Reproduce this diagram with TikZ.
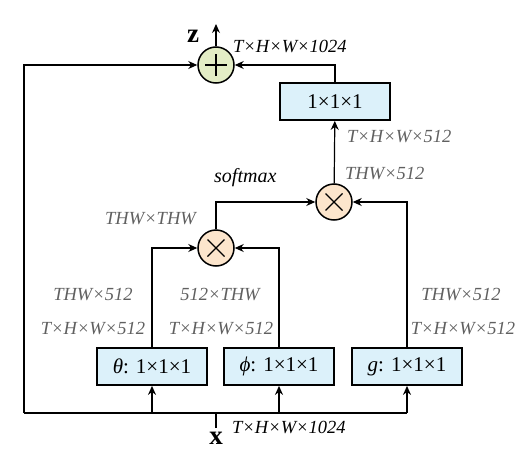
\documentclass[tikz,border=0pt]{standalone}
\usepackage{fontspec}
\setmainfont{Liberation Serif}
\usetikzlibrary{arrows.meta}
\definecolor{addfill}{HTML}{E3EDC5}
\definecolor{mulfill}{HTML}{FCE5CC}
\definecolor{boxfill}{HTML}{DCF1FA}
\definecolor{dimgray}{HTML}{606060}
\tikzset{
  conv/.style={draw=black, line width=1.8pt, fill=boxfill, minimum width=110pt, minimum height=37pt, inner sep=0pt, font=\fontsize{21}{24}\selectfont},
  opcirc/.style={circle, draw=black, line width=1.5pt, minimum size=36pt, inner sep=0pt},
  link/.style={line width=1.2pt, -{Stealth[length=9pt,width=8pt]}},
  plain/.style={line width=1.2pt},
  dimlbl/.style={text=dimgray, font=\fontsize{18.5}{20}\selectfont\itshape, inner sep=0pt},
  blklbl/.style={text=black, font=\fontsize{18.5}{20}\selectfont\itshape, inner sep=0pt},
}
\begin{document}
\begin{tikzpicture}[x=1pt,y=-1pt]
\useasboundingbox (0,0) rectangle (525,463);
% operators
\node[opcirc, fill=addfill] (add) at (216,65) {};
\draw[line width=1.3pt] (add.center) ++(-11,0) -- ++(22,0) (add.center) ++(0,-11) -- ++(0,22);
\node[opcirc, fill=mulfill] (m2) at (334,202) {};
\draw[line width=1.3pt] (m2.center) ++(-8.5,-8.5) -- ++(17,17) (m2.center) ++(-8.5,8.5) -- ++(17,-17);
\node[opcirc, fill=mulfill] (m1) at (216,248) {};
\draw[line width=1.3pt] (m1.center) ++(-8.5,-8.5) -- ++(17,17) (m1.center) ++(-8.5,8.5) -- ++(17,-17);
% boxes
\node[conv] (out) at (335,101.5) {1×1×1};
\node[conv] (theta) at (152,366.5) {\textit{θ}: 1×1×1};
\node[conv] (phi) at (279,366.5) {\textit{ϕ}: 1×1×1};
\node[conv] (g) at (407,366.5) {\textit{g}: 1×1×1};
% coordinates
\coordinate (zt) at (216,24);
\coordinate (xb) at (216,428);
\coordinate (xj) at (216,413);
\coordinate (bl) at (24,413);
\coordinate (tl) at (24,65);
% connectors
\draw[link] (add) -- (zt);
\draw[link] (bl) -- (tl) -- (add);
\draw[link] (out.north) |- (add);
\draw[link] (m2) -- (out);
\draw[link] (m1.north) |- (m2);
\draw[link] (g.north) |- (m2);
\draw[link] (theta.north) |- (m1);
\draw[link] (phi.north) |- (m1);
\draw[plain] (xb) -- (xj);
\draw[plain] (bl) -- (g.center |- xj);
\draw[link] (theta.center |- xj) -- (theta);
\draw[link] (phi.center |- xj) -- (phi);
\draw[link] (g.center |- xj) -- (g);
% labels
\node[font=\fontsize{27}{28}\selectfont\bfseries, inner sep=0pt] (zl) at (193,36) {z};
\node[font=\fontsize{27}{28}\selectfont\bfseries, inner sep=0pt] (xl) at (216,438) {x};
\node[blklbl, anchor=west] (l1) at (233,46) {T×H×W×1024};
\node[dimlbl, anchor=west] (l2) at (347,137) {T×H×W×512};
\node[dimlbl, anchor=west] (l3) at (345,174) {THW×512};
\node[blklbl, anchor=west, font=\fontsize{20}{22}\selectfont\itshape] (l4) at (214,178) {softmax};
\node[dimlbl, anchor=east] (l5) at (196,219) {THW×THW};
\node[dimlbl] (l6) at (93,295) {THW×512};
\node[dimlbl] (l7) at (220,295) {512×THW};
\node[dimlbl] (l8) at (461,295) {THW×512};
\node[dimlbl] (l9) at (93,329) {T×H×W×512};
\node[dimlbl] (l10) at (221,329) {T×H×W×512};
\node[dimlbl] (l11) at (463,329) {T×H×W×512};
\node[blklbl, anchor=west] (l12) at (232,427) {T×H×W×1024};
\end{tikzpicture}
\end{document}
